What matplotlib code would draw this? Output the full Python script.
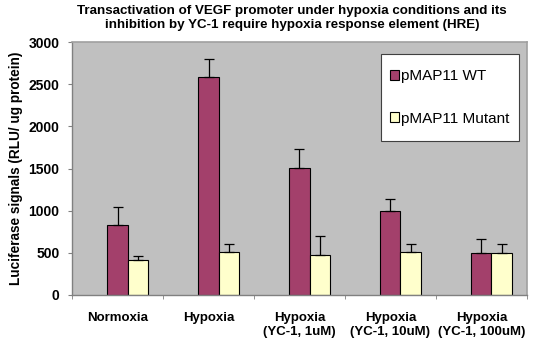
import numpy as np
import matplotlib
matplotlib.use("Agg")
import matplotlib.pyplot as plt
from matplotlib.patches import Rectangle

plt.rcParams["font.family"] = ["Liberation Sans", "DejaVu Sans"]

categories = ["Normoxia", "Hypoxia", "Hypoxia\n(YC-1, 1uM)", "Hypoxia\n(YC-1, 10uM)", "Hypoxia\n(YC-1, 100uM)"]
wt_vals = [830, 2590, 1505, 995, 500]
wt_err = [210, 215, 225, 145, 160]
mut_vals = [415, 505, 470, 515, 500]
mut_err = [50, 100, 230, 90, 100]

fig = plt.figure(figsize=(5.39, 3.45), dpi=100)
ax = fig.add_axes([0.1336, 0.145, 0.8441, 0.733])
ax.set_facecolor("#c0c0c0")

x = np.arange(len(categories))
w = 0.22
ax.bar(x, wt_vals, w, align="edge", color="#a3406b", edgecolor="black", linewidth=0.8,
       label="pMAP11 WT", zorder=2)
ax.bar(x + w, mut_vals, w, align="edge", color="#ffffcc", edgecolor="black", linewidth=0.8,
       label="pMAP11 Mutant", zorder=2)
# only upper error bars
ax.errorbar(x + w / 2, wt_vals, yerr=[np.zeros(5), wt_err], fmt="none", ecolor="black",
            elinewidth=0.9, capsize=3.5, capthick=0.9, zorder=3)
ax.errorbar(x + 1.5 * w, mut_vals, yerr=[np.zeros(5), mut_err], fmt="none", ecolor="black",
            elinewidth=0.9, capsize=3.5, capthick=0.9, zorder=3)

ax.set_xlim(-0.5 + w / 2, 4.5 + w / 2)
ax.set_ylim(0, 3000)
ax.set_yticks(range(0, 3001, 500))
ax.set_yticklabels([str(v) for v in range(0, 3001, 500)], fontweight="bold", fontsize=10)
ax.set_xticks(x + w / 2)
ax.set_xticklabels(categories, fontweight="bold", fontsize=9.5, linespacing=1.3)
ax.tick_params(axis="x", length=0, pad=12)
ax.set_xticks(np.arange(-0.5, 5, 1) + w / 2, minor=True)
ax.tick_params(axis="x", which="minor", length=3, color="#808080")
ax.tick_params(axis="y", length=3, color="#808080", pad=6)

ax.set_ylabel("Luciferase signals (RLU/ ug protein)", fontweight="bold", fontsize=9.8)

for s in ["top", "right"]:
    ax.spines[s].set_color("#a0a0a0")
    ax.spines[s].set_linewidth(1.2)
for s in ["left", "bottom"]:
    ax.spines[s].set_color("#808080")
    ax.spines[s].set_linewidth(1.0)

# legend box drawn by hand (Excel style: tall, narrow padding)
box = Rectangle((0.679, 0.609), 0.303, 0.344, transform=ax.transAxes, facecolor="white",
                edgecolor="#404040", linewidth=0.8, zorder=4)
ax.add_patch(box)
leg = ax.legend(loc="center", bbox_to_anchor=(0.679 + 0.303 / 2, 0.609 + 0.344 / 2),
                fontsize=11, frameon=False, handlelength=0.6, handleheight=0.6,
                handletextpad=0.15, labelspacing=1.85, borderpad=0, borderaxespad=0)
leg.set_zorder(5)

fig.suptitle("Transactivation of VEGF promoter under hypoxia conditions and its\n"
             "inhibition by YC-1 require hypoxia response element (HRE)",
             x=0.542, y=0.985, fontsize=9.6, fontweight="bold", linespacing=1.2)

fig.savefig("out.png", dpi=100)
